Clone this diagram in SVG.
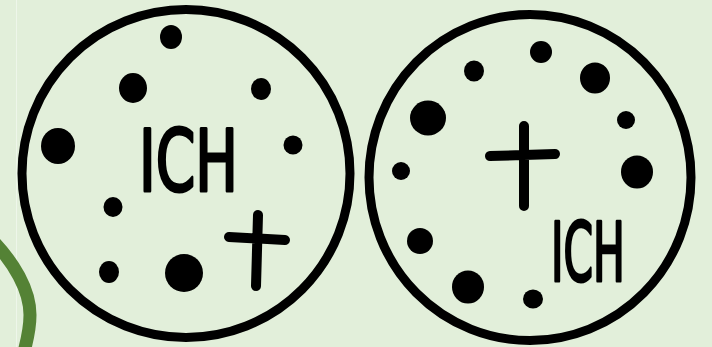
<svg xmlns="http://www.w3.org/2000/svg" width="712" height="347" viewBox="0 0 712 347">
<style>
.ring{fill:none;stroke:#000;stroke-width:9}
.dot{fill:#000}
.cross{stroke:#000;stroke-width:10;stroke-linecap:round;fill:none}
.ich{font-family:"Liberation Sans Narrow","DejaVu Sans Condensed","Liberation Sans",sans-serif;font-weight:normal;fill:#000;stroke:#000;stroke-width:3;stroke-linejoin:round}
</style>
<rect x="0" y="0" width="712" height="347" fill="#e2efda"/>
<line x1="16.5" y1="0" x2="16.5" y2="347" stroke="#eef6ea" stroke-width="1"/>
<path d="M -10 238 C 14 262, 30 290, 30 315 C 30 330, 27 340, 24 352" fill="none" stroke="#548235" stroke-width="13"/>
<g id="left-circle">
<circle class="ring" cx="186" cy="173.5" r="164"/>
<ellipse class="dot" cx="171" cy="37" rx="11" ry="12"/>
<ellipse class="dot" cx="133" cy="88" rx="14" ry="15"/>
<ellipse class="dot" cx="261" cy="89" rx="10" ry="11"/>
<ellipse class="dot" cx="58" cy="146" rx="17" ry="18"/>
<ellipse class="dot" cx="293" cy="145" rx="9.5" ry="9.5"/>
<ellipse class="dot" cx="113" cy="207" rx="9.5" ry="10"/>
<ellipse class="dot" cx="109" cy="272" rx="10" ry="11"/>
<ellipse class="dot" cx="184" cy="273" rx="19" ry="19"/>
<path class="cross" d="M 258 215 L 256 286 M 229 237 L 285 240"/>
<text class="ich" x="139" y="191" font-size="86" textLength="99" lengthAdjust="spacingAndGlyphs">ICH</text>
</g>
<g id="right-circle">
<ellipse class="ring" cx="530" cy="177.5" rx="161" ry="163"/>
<ellipse class="dot" cx="541" cy="52" rx="11" ry="11"/>
<ellipse class="dot" cx="474" cy="71" rx="10" ry="10.5"/>
<ellipse class="dot" cx="595" cy="78" rx="15" ry="15.5"/>
<ellipse class="dot" cx="428" cy="118" rx="18" ry="17.5"/>
<ellipse class="dot" cx="626" cy="120" rx="9" ry="9"/>
<ellipse class="dot" cx="401" cy="171" rx="9" ry="9"/>
<ellipse class="dot" cx="637" cy="172" rx="16" ry="16.5"/>
<ellipse class="dot" cx="420" cy="241" rx="13" ry="13"/>
<ellipse class="dot" cx="468" cy="287" rx="16" ry="16.5"/>
<ellipse class="dot" cx="533" cy="299" rx="10" ry="9.5"/>
<path class="cross" d="M 524 126 L 524 206 M 490 156 L 555 154"/>
<text class="ich" x="551" y="281" font-size="82" textLength="74" lengthAdjust="spacingAndGlyphs">ICH</text>
</g>
</svg>
